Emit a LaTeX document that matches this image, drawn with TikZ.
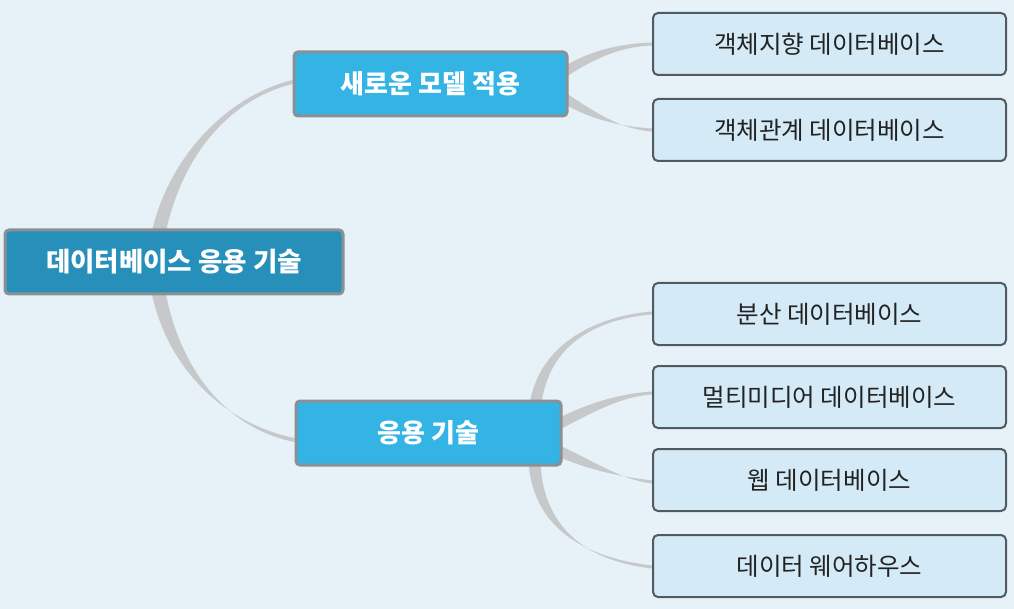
\documentclass[tikz,border=0pt]{standalone}
\usepackage{fontspec}
\setmainfont{Noto Sans CJK KR}
\usetikzlibrary{calc}
\pgfdeclarelayer{backdrop}
\pgfdeclarelayer{bg}
\pgfsetlayers{backdrop,bg,main}
\definecolor{bgc}{HTML}{E7F2F8}
\definecolor{rootc}{HTML}{2690BA}
\definecolor{midc}{HTML}{33B4E4}
\definecolor{leafc}{HTML}{D4EAF6}
\definecolor{grayb}{HTML}{8A9095}
\definecolor{leafb}{HTML}{4F5B60}
\definecolor{linkc}{HTML}{C6C8CA}
\definecolor{txt}{HTML}{222222}
\newcommand\taper[6]{\fill[linkc] ($#1+#5$) .. controls ($#2+#5$) and ($#3+#6$) .. ($#4+#6$) -- ($#4-#6$) .. controls ($#3-#6$) and ($#2-#5$) .. ($#1-#5$) -- cycle;}
\tikzset{
  rootbox/.style={draw=grayb, line width=3pt, fill=rootc, rounded corners=4pt, text=white, font=\fontsize{26.5}{30}\selectfont\bfseries, minimum width=338pt, minimum height=64pt, inner sep=0pt},
  midbox/.style={draw=grayb, line width=3pt, fill=midc, rounded corners=4pt, text=white, font=\fontsize{26}{30}\selectfont\bfseries, minimum height=64pt, inner sep=0pt},
  leafbox/.style={draw=leafb, line width=2pt, fill=leafc, rounded corners=5pt, text=txt, font=\fontsize{24.5}{28}\selectfont, minimum width=353pt, minimum height=62pt, inner sep=0pt},
}
\begin{document}
\begin{tikzpicture}[x=1pt, y=-1pt]
\useasboundingbox (0,0) rectangle (1014,609);
\begin{pgfonlayer}{backdrop}
\fill[bgc] (0,0) rectangle (1014,609);
\end{pgfonlayer}
\node[rootbox] (root) at (174,262) {데이터베이스 응용 기술};
\node[midbox, minimum width=273pt] (m1) at (430.5,84) {새로운 모델 적용};
\node[midbox, minimum width=265pt] (m2) at (428.5,433) {응용 기술};
\node[leafbox] (l1) at (829.5,44) {객체지향 데이터베이스};
\node[leafbox] (l2) at (829.5,130) {객체관계 데이터베이스};
\node[leafbox] (l3) at (829.5,314) {분산 데이터베이스};
\node[leafbox] (l4) at (829.5,397) {멀티미디어 데이터베이스};
\node[leafbox] (l5) at (829.5,480) {웹 데이터베이스};
\node[leafbox] (l6) at (829.5,566) {데이터 웨어하우스};
\begin{pgfonlayer}{bg}
\taper{(root.center)+(-19,-7)}{(165,170)}{(220,100)}{(m1.west)+(0,-2)}{(7,1)}{(0,2)}
\taper{(root.center)+(-19,8)}{(165,360)}{(220,425)}{(m2.west)+(0,7)}{(7,-1)}{(0,2)}
\taper{(m1.east)+(-7,-10)}{(590,55)}{(620,45)}{(l1.west)}{(3,4)}{(0,1.5)}
\taper{(m1.east)+(-7,12)}{(590,115)}{(620,128)}{(l2.west)}{(3,-4)}{(0,1.5)}
\taper{(m2.center)+(106,-13)}{(535,350)}{(590,318)}{(l3.west)+(0,-1)}{(6,0)}{(0,1.5)}
\taper{(m2.east)+(-6,-8)}{(590,408)}{(620,395)}{(l4.west)+(0,-4)}{(2,5)}{(0,1.5)}
\taper{(m2.east)+(-6,17)}{(590,465)}{(620,478)}{(l5.west)+(0,2)}{(2,-5)}{(0,1.5)}
\taper{(m2.center)+(106,12)}{(530,530)}{(590,560)}{(l6.west)+(0,1)}{(6,0)}{(0,1.5)}
\end{pgfonlayer}
\end{tikzpicture}
\end{document}
